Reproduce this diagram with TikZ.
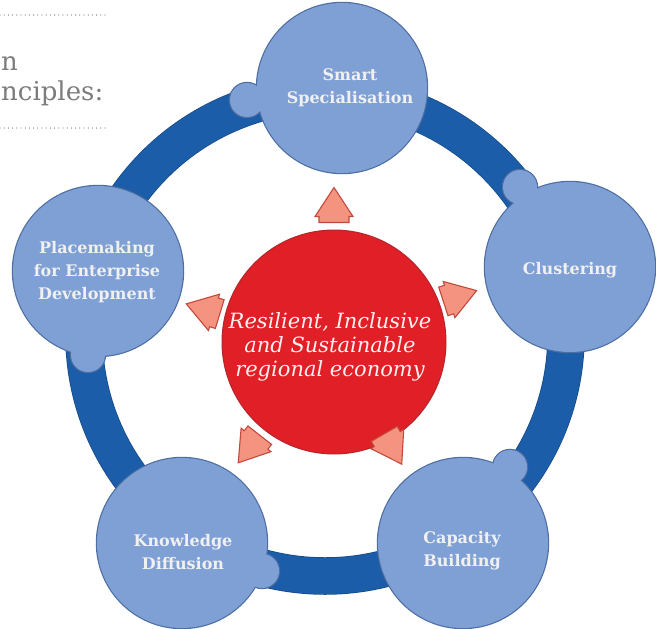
\documentclass[tikz,border=0pt]{standalone}
\usepackage{fontspec}
\setmainfont{DejaVu Serif}
\usetikzlibrary{calc}
\definecolor{ringblue}{HTML}{1B5DA8}
\definecolor{petalfill}{HTML}{7FA0D5}
\definecolor{petaledge}{HTML}{4E6EA2}
\definecolor{corered}{HTML}{E01F26}
\definecolor{coreedge}{HTML}{B3262B}
\definecolor{pointerfill}{HTML}{F4937F}
\definecolor{pointeredge}{HTML}{C24A3C}
\definecolor{headgray}{HTML}{7C7C7C}
\tikzset{%
  principle/.style={text=white!94!black, font=\bfseries\fontsize{16}{23}\selectfont, align=center, inner sep=0pt},
  core text/.style={text=red!6, font=\itshape\fontsize{21}{24}\selectfont, align=center, inner sep=0pt},
  head text/.style={text=headgray, font=\fontsize{26}{30}\selectfont, anchor=base west, inner sep=0pt},
  dotline/.style={headgray, line width=1.3pt, line cap=round, dash pattern=on 0pt off 4.2pt},
  outpointer/.pic={%
    \draw[fill=pointerfill, draw=pointeredge, line width=1.1pt]
      (-17.5,-15) -- (-11.5,-15) -- (-11.5,-19) -- (17.5,0) -- (-11.5,19) -- (-11.5,15) -- (-17.5,15) -- cycle;
  }%
}
\begin{document}
\begin{tikzpicture}[x=1pt, y=-1pt]

  % page frame in pixel units, y going down
  \useasboundingbox (0,0) rectangle (656,629);
  \clip (0,0) rectangle (656,629);

  % set up basic coordinates
  \coordinate (ringc) at (325,335);
  \coordinate (core) at (334,342);
  \coordinate (S) at (342,88);
  \coordinate (C) at (570,267);
  \coordinate (B) at (463,543);
  \coordinate (K) at (182,543);
  \coordinate (P) at (98,271);

  % end caps where the ring runs into each circle
  \coordinate (bS) at (247,100);
  \coordinate (bC) at (520,187);
  \coordinate (bB) at (510,467);
  \coordinate (bK) at (262,571);
  \coordinate (bP) at (88,355);

  % heading
  \draw[dotline] (0,15) -- (105,15);
  \node[head text] (hd1) at (1,70) {n};
  \node[head text] (hd2) at (1,100) {nciples:};
  \draw[dotline] (0,128) -- (105,128);

  % the ring
  \draw[ringblue!80!black, line width=37.5pt] (ringc) circle (241);
  \draw[ringblue, line width=36pt] (ringc) circle (241);

  % circles with their caps: edge first, then the fill on top
  \foreach \c/\b in {S/bS, C/bC, B/bB, K/bK, P/bP} {
    \fill[petaledge] (\c) circle (86.2);
    \fill[petaledge] (\b) circle (18.2);
  }
  \foreach \c/\b in {S/bS, C/bC, B/bB, K/bK, P/bP} {
    \fill[petalfill] (\c) circle (85);
    \fill[petalfill] (\b) circle (17);
  }

  % labels of the five principles
  \node[principle] (tS) at (350,88) {Smart\\Specialisation};
  \node[principle] (tC) at (570,270) {Clustering};
  \node[principle] (tB) at (462,551) {Capacity\\Building};
  \node[principle] (tK) at (183,552) {Knowledge\\Diffusion};
  \node[principle] (tP) at (97,272) {Placemaking\\for Enterprise\\Development};

  % centre
  \draw[fill=corered, draw=coreedge, line width=1pt] (core) circle (112);
  \node[core text] (tcore) at (330,347) {Resilient, Inclusive\\and Sustainable\\regional economy};

  % pointers from the centre out to each principle
  \pic[rotate=90] at (334,205) {outpointer};
  \pic[rotate=18] at (460,296) {outpointer};
  \pic[rotate=300] at (393,449) {outpointer};
  \pic[rotate=232] at (249,449) {outpointer};
  \pic[rotate=163] at (203,309) {outpointer};

\end{tikzpicture}
\end{document}
